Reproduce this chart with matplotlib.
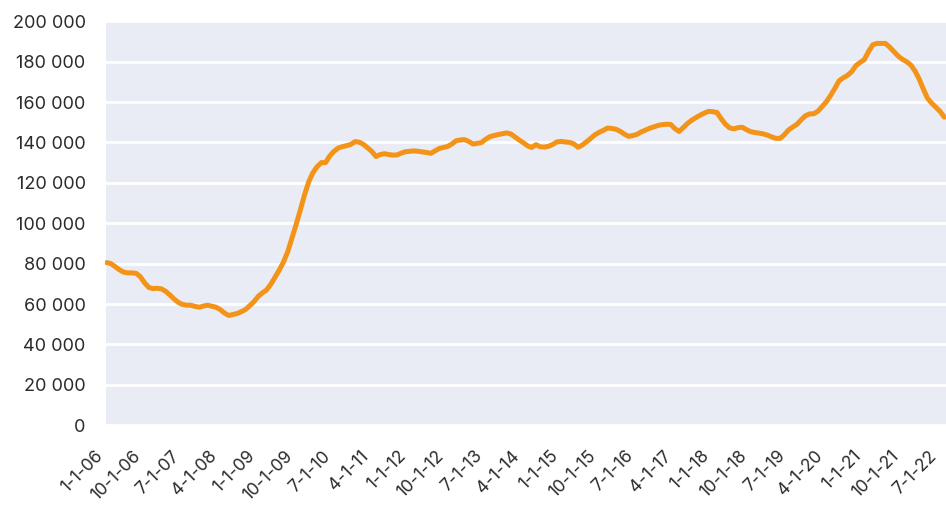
import numpy as np
import pandas as pd
import matplotlib.pyplot as plt
from matplotlib.ticker import FuncFormatter, MultipleLocator

# monthly values, Jan 2006 - Aug 2022
dates = pd.date_range("2006-01-01", "2022-08-01", freq="MS")

values = [
    80500, 80000, 78500, 77000, 75800, 75400, 75400, 75200, 73500, 70500,
    68200, 67600, 67800, 67500, 66300, 64500, 62500, 60800, 59800, 59400,
    59400, 58800, 58400, 59000, 59400, 58900, 58400, 57200, 55500, 54300,
    54800, 55300, 56200, 57300, 59200, 61200, 63800, 65500, 67000, 69800,
    73300, 76800, 80800, 85800, 92500, 99300, 106500, 114000, 120500, 125000,
    128000, 130000, 130000, 133300, 135600, 137200, 137900, 138400, 139000, 140400,
    140100, 139000, 137300, 135500, 133000, 134000, 134400, 134000, 133700, 133800,
    134700, 135400, 135600, 135800, 135600, 135300, 135000, 134600, 135800, 137000,
    137500, 138000, 139200, 140800, 141200, 141400, 140500, 139200, 139500, 139900,
    141500, 142800, 143400, 143900, 144300, 144700, 144200, 142700, 141200, 139800,
    138300, 137500, 138900, 137800, 137700, 138100, 139000, 140300, 140500, 140200,
    140000, 139200, 137600, 138700, 140300, 142000, 143800, 145000, 146000, 147100,
    146900, 146500, 145500, 144100, 143000, 143400, 144000, 145200, 146100, 147000,
    147700, 148400, 148800, 149000, 148900, 146800, 145400, 147400, 149400, 151000,
    152300, 153500, 154500, 155400, 155200, 154800, 151700, 149000, 147200, 146700,
    147300, 147500, 146300, 145300, 144900, 144600, 144200, 143600, 142700, 142000,
    142000, 143800, 146200, 147600, 149000, 151200, 153200, 154100, 154200, 155500,
    157800, 160200, 163300, 166800, 170500, 172000, 173200, 175000, 178000, 179600,
    181000, 185000, 188300, 189000, 189000, 189000, 187200, 185000, 182800, 181200,
    180000, 178400, 175500, 171500, 166500, 161900, 159400, 157400, 155300, 152500,
]

tick_step = 9
tick_pos = list(range(0, len(dates), tick_step))
tick_labels = [f"{d.month}-1-{d.year % 100:02d}" for d in dates[tick_pos]]

plt.rcParams["font.family"] = ["Inter", "DejaVu Sans"]

fig = plt.figure(figsize=(9.46, 5.05), dpi=100)
ax = fig.add_axes([0.111, 0.158, 0.889, 0.8])
ax.set_facecolor("#E9ECF4")

x = np.arange(len(values))
ax.plot(x, values, color="#F39419", linewidth=3.6, solid_capstyle="round", zorder=3)

ax.set_ylim(0, 200000)
ax.yaxis.set_major_locator(MultipleLocator(20000))
ax.yaxis.set_major_formatter(FuncFormatter(lambda v, p: f"{int(v):,}".replace(",", " ")))
ax.grid(axis="y", color="white", linewidth=2)
ax.set_axisbelow(True)

ax.set_xlim(-0.4, len(values) - 0.6)
ax.set_xticks(tick_pos)
ax.set_xticklabels(tick_labels, rotation=45, ha="right")

for s in ["top", "right", "bottom"]:
    ax.spines[s].set_visible(False)
ax.spines["left"].set_color("white")
ax.spines["left"].set_linewidth(1.5)

ax.tick_params(axis="y", length=0, pad=14, labelsize=13, labelcolor="#2b2b2b")
ax.tick_params(axis="x", length=0, pad=16, labelsize=12.5, labelcolor="#2b2b2b")

fig.savefig("out.png", dpi=100)
